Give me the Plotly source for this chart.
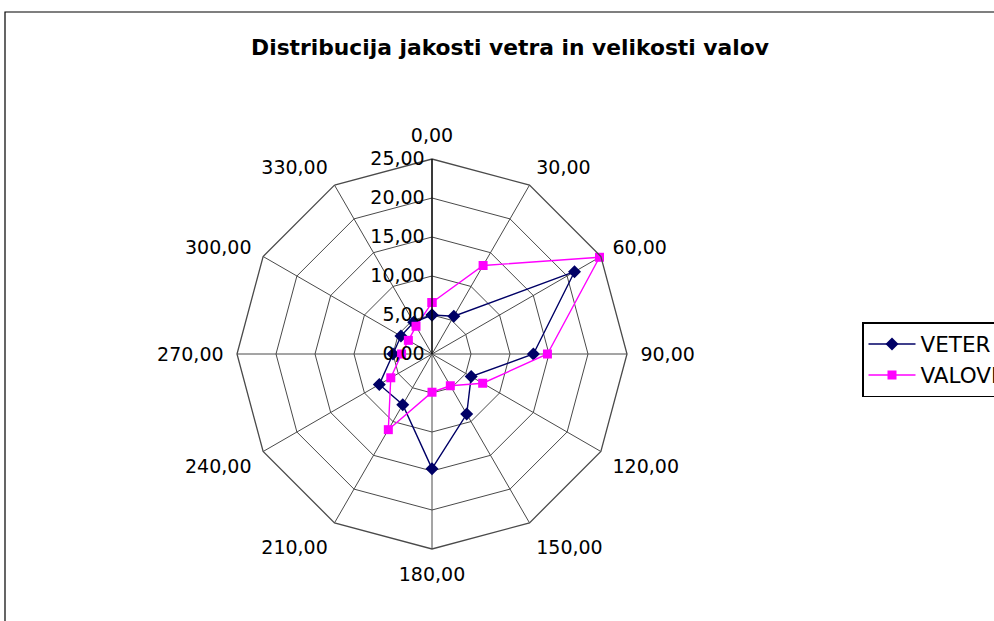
import plotly.graph_objects as go

directions = ["0,00", "30,00", "60,00", "90,00", "120,00", "150,00",
              "180,00", "210,00", "240,00", "270,00", "300,00", "330,00"]
veter = [5.0, 5.6, 21.1, 13.0, 5.8, 8.9, 14.7, 7.5, 7.8, 5.0, 4.6, 4.7]
valovi = [6.6, 13.1, 24.8, 14.8, 7.5, 4.7, 4.9, 11.2, 6.1, 3.9, 3.5, 4.1]
radial_ticks = [0, 5, 10, 15, 20, 25]
radial_labels = ["0,00", "5,00", "10,00", "15,00", "20,00", "25,00"]

W, H = 1040, 621  # figure slightly wider than the 994 px window: legend is clipped as in the original
cx, cy, R = 432, 354, 195

fig = go.Figure()
fig.add_trace(go.Scatterpolar(
    r=veter + veter[:1], theta=directions + directions[:1], name="VETER",
    mode="lines+markers",
    line=dict(color="#000066", width=1.4),
    marker=dict(symbol="diamond", size=10, color="#000066")))
fig.add_trace(go.Scatterpolar(
    r=valovi + valovi[:1], theta=directions + directions[:1], name="VALOVI",
    mode="lines+markers",
    line=dict(color="#ff00ff", width=1.4),
    marker=dict(symbol="square", size=9, color="#ff00ff")))

fig.update_layout(
    width=W, height=H,
    paper_bgcolor="white", plot_bgcolor="white",
    margin=dict(l=0, r=0, t=0, b=0),
    font=dict(family="DejaVu Sans", size=19, color="black"),
    title=dict(text="<b>Distribucija jakosti vetra in velikosti valov</b>",
               x=510 / W, xanchor="center", y=1 - 47 / H, yanchor="middle",
               font=dict(size=21.8, color="black")),
    polar=dict(
        domain=dict(x=[(cx - R) / W, (cx + R) / W],
                    y=[(H - cy - R) / H, (H - cy + R) / H]),
        gridshape="linear",
        bgcolor="white",
        radialaxis=dict(range=[0, 25], tickvals=radial_ticks, ticktext=radial_labels,
                        angle=90, tickangle=90, side="counterclockwise",
                        showline=True, linecolor="black", linewidth=1.3,
                        gridcolor="#4a4a4a", gridwidth=1.3, ticks="",
                        tickfont=dict(size=19)),
        angularaxis=dict(direction="clockwise", rotation=90,
                         categoryarray=directions, categoryorder="array",
                         showline=True, linecolor="#4a4a4a", linewidth=1.3,
                         gridcolor="#4a4a4a", gridwidth=1.3,
                         ticks="outside", ticklen=9, tickcolor="rgba(0,0,0,0)",
                         tickfont=dict(size=19)),
    ),
    showlegend=True,
    legend=dict(x=862 / W, y=1 - 322 / H, xanchor="left", yanchor="top",
                bordercolor="black", borderwidth=1.5, bgcolor="white",
                font=dict(size=21.5), itemwidth=47, tracegroupgap=0),
    shapes=[dict(type="rect", xref="paper", yref="paper",
                 x0=5 / W, x1=1.05, y0=-0.05, y1=1 - 12 / H,
                 line=dict(color="black", width=1.2))],
)

fig.write_html("out.html", config={"displayModeBar": False},
               post_script="document.body.style.margin='0';document.body.style.overflow='hidden';")
